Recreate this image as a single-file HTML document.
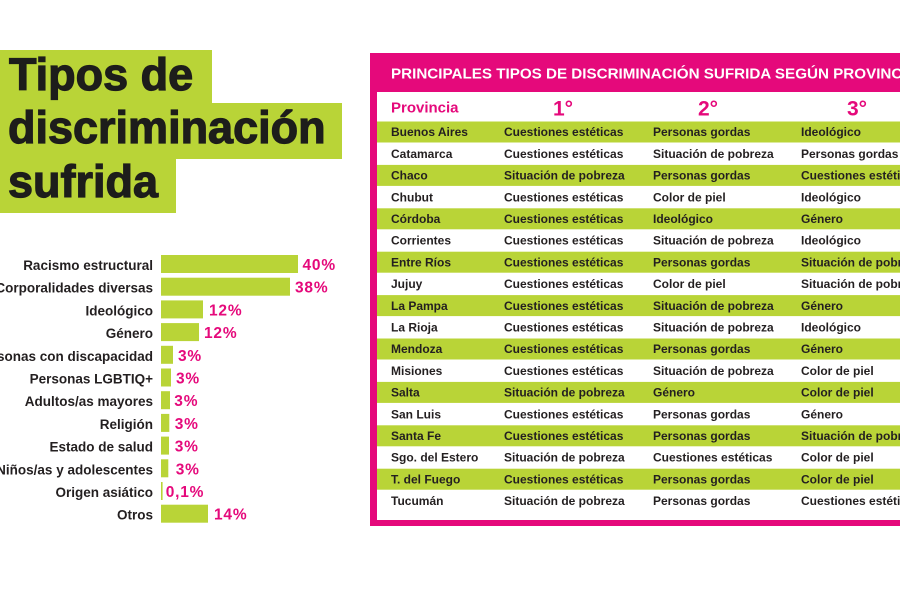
<!DOCTYPE html>
<html><head><meta charset="utf-8">
<style>
html,body{margin:0;padding:0;background:#fff;width:900px;height:600px;overflow:hidden}
svg{display:block}
text{font-family:"Liberation Sans",sans-serif}
.lab{font-size:13.5px;font-weight:bold;fill:#231f20;text-anchor:end}
.pct{font-size:15.5px;font-weight:bold;fill:#e5097b;letter-spacing:0.8px}
.td{font-size:12px;font-weight:bold;fill:#231f20}
</style></head>
<body>
<svg width="900" height="600" viewBox="0 0 900 600" xmlns="http://www.w3.org/2000/svg">
<rect width="900" height="600" fill="#fff"/>
<!-- Title -->
<rect x="0" y="50" width="212" height="54" fill="#b9d437"/>
<rect x="0" y="103" width="342" height="56" fill="#b9d437"/>
<rect x="0" y="158" width="176" height="55" fill="#b9d437"/>
<g font-size="45" font-weight="bold" fill="#1d1d1b" stroke="#1d1d1b" stroke-width="1.2" style="font-family:'Liberation Sans',sans-serif">
<text x="9" y="90">Tipos de</text>
<text x="8" y="143">discriminación</text>
<text x="8" y="197">sufrida</text>
</g>
<!-- Bars -->
<g fill="#b9d437">
<rect x="161" y="255" width="137" height="18"/>
<rect x="161" y="277.7" width="129" height="18"/>
<rect x="161" y="300.4" width="42" height="18"/>
<rect x="161" y="323.1" width="38" height="18"/>
<rect x="161" y="345.8" width="12" height="18"/>
<rect x="161" y="368.5" width="10" height="18"/>
<rect x="161" y="391.2" width="9" height="18"/>
<rect x="161" y="413.9" width="8.3" height="18"/>
<rect x="161" y="436.6" width="8" height="18"/>
<rect x="161" y="459.3" width="7.3" height="18"/>
<rect x="161" y="482" width="1.6" height="18"/>
<rect x="161" y="504.7" width="47" height="18"/>
</g>
<text class="lab" x="153" y="270">Racismo estructural</text>
<text class="lab" x="153" y="292.7">Corporalidades diversas</text>
<text class="lab" x="153" y="315.4">Ideológico</text>
<text class="lab" x="153" y="338.1">Género</text>
<text class="lab" x="153" y="360.8">Personas con discapacidad</text>
<text class="lab" x="153" y="383.5">Personas LGBTIQ+</text>
<text class="lab" x="153" y="406.2">Adultos/as mayores</text>
<text class="lab" x="153" y="428.9">Religión</text>
<text class="lab" x="153" y="451.6">Estado de salud</text>
<text class="lab" x="153" y="474.3">Niños/as y adolescentes</text>
<text class="lab" x="153" y="497">Origen asiático</text>
<text class="lab" x="153" y="519.7">Otros</text>

<text class="pct" x="302.5" y="270">40%</text>
<text class="pct" x="295" y="292.7">38%</text>
<text class="pct" x="209" y="315.4">12%</text>
<text class="pct" x="204" y="338.1">12%</text>
<text class="pct" x="178" y="360.8">3%</text>
<text class="pct" x="176" y="383.5">3%</text>
<text class="pct" x="174.3" y="406.2">3%</text>
<text class="pct" x="174.7" y="428.9">3%</text>
<text class="pct" x="174.7" y="451.6">3%</text>
<text class="pct" x="175.7" y="474.3">3%</text>
<text class="pct" x="165.7" y="497">0,1%</text>
<text class="pct" x="214" y="519.7">14%</text>

<!-- Table frame -->
<rect x="370" y="53" width="540" height="473" fill="#e5097b"/>
<rect x="377" y="92" width="533" height="428" fill="#fff"/>
<text x="391" y="78.3" font-size="15.2" font-weight="bold" fill="#fff">PRINCIPALES TIPOS DE DISCRIMINACIÓN SUFRIDA SEGÚN PROVINCIA</text>
<text x="391" y="112.3" font-size="15" font-weight="bold" fill="#e5097b">Provincia</text>
<g font-size="21" font-weight="bold" fill="#e5097b" text-anchor="middle">
<text x="563" y="115.7">1°</text>
<text x="708" y="115.7">2°</text>
<text x="857" y="115.7">3°</text>
</g>
<!-- green rows -->
<g fill="#b9d437">
<rect x="377" y="121.5" width="533" height="21"/>
<rect x="377" y="164.9" width="533" height="21"/>
<rect x="377" y="208.3" width="533" height="21"/>
<rect x="377" y="251.7" width="533" height="21"/>
<rect x="377" y="295.1" width="533" height="21"/>
<rect x="377" y="338.5" width="533" height="21"/>
<rect x="377" y="381.9" width="533" height="21"/>
<rect x="377" y="425.3" width="533" height="21"/>
<rect x="377" y="468.7" width="533" height="21"/>
</g>
<g class="td">
<text class="td" x="391" y="136.2">Buenos Aires</text><text class="td" x="504" y="136.2">Cuestiones estéticas</text><text class="td" x="653" y="136.2">Personas gordas</text><text class="td" x="801" y="136.2">Ideológico</text>
<text class="td" x="391" y="157.9">Catamarca</text><text class="td" x="504" y="157.9">Cuestiones estéticas</text><text class="td" x="653" y="157.9">Situación de pobreza</text><text class="td" x="801" y="157.9">Personas gordas</text>
<text class="td" x="391" y="179.6">Chaco</text><text class="td" x="504" y="179.6">Situación de pobreza</text><text class="td" x="653" y="179.6">Personas gordas</text><text class="td" x="801" y="179.6">Cuestiones estéticas</text>
<text class="td" x="391" y="201.3">Chubut</text><text class="td" x="504" y="201.3">Cuestiones estéticas</text><text class="td" x="653" y="201.3">Color de piel</text><text class="td" x="801" y="201.3">Ideológico</text>
<text class="td" x="391" y="223">Córdoba</text><text class="td" x="504" y="223">Cuestiones estéticas</text><text class="td" x="653" y="223">Ideológico</text><text class="td" x="801" y="223">Género</text>
<text class="td" x="391" y="244.7">Corrientes</text><text class="td" x="504" y="244.7">Cuestiones estéticas</text><text class="td" x="653" y="244.7">Situación de pobreza</text><text class="td" x="801" y="244.7">Ideológico</text>
<text class="td" x="391" y="266.4">Entre Ríos</text><text class="td" x="504" y="266.4">Cuestiones estéticas</text><text class="td" x="653" y="266.4">Personas gordas</text><text class="td" x="801" y="266.4">Situación de pobreza</text>
<text class="td" x="391" y="288.1">Jujuy</text><text class="td" x="504" y="288.1">Cuestiones estéticas</text><text class="td" x="653" y="288.1">Color de piel</text><text class="td" x="801" y="288.1">Situación de pobreza</text>
<text class="td" x="391" y="309.8">La Pampa</text><text class="td" x="504" y="309.8">Cuestiones estéticas</text><text class="td" x="653" y="309.8">Situación de pobreza</text><text class="td" x="801" y="309.8">Género</text>
<text class="td" x="391" y="331.5">La Rioja</text><text class="td" x="504" y="331.5">Cuestiones estéticas</text><text class="td" x="653" y="331.5">Situación de pobreza</text><text class="td" x="801" y="331.5">Ideológico</text>
<text class="td" x="391" y="353.2">Mendoza</text><text class="td" x="504" y="353.2">Cuestiones estéticas</text><text class="td" x="653" y="353.2">Personas gordas</text><text class="td" x="801" y="353.2">Género</text>
<text class="td" x="391" y="374.9">Misiones</text><text class="td" x="504" y="374.9">Cuestiones estéticas</text><text class="td" x="653" y="374.9">Situación de pobreza</text><text class="td" x="801" y="374.9">Color de piel</text>
<text class="td" x="391" y="396.6">Salta</text><text class="td" x="504" y="396.6">Situación de pobreza</text><text class="td" x="653" y="396.6">Género</text><text class="td" x="801" y="396.6">Color de piel</text>
<text class="td" x="391" y="418.3">San Luis</text><text class="td" x="504" y="418.3">Cuestiones estéticas</text><text class="td" x="653" y="418.3">Personas gordas</text><text class="td" x="801" y="418.3">Género</text>
<text class="td" x="391" y="440">Santa Fe</text><text class="td" x="504" y="440">Cuestiones estéticas</text><text class="td" x="653" y="440">Personas gordas</text><text class="td" x="801" y="440">Situación de pobreza</text>
<text class="td" x="391" y="461.7">Sgo. del Estero</text><text class="td" x="504" y="461.7">Situación de pobreza</text><text class="td" x="653" y="461.7">Cuestiones estéticas</text><text class="td" x="801" y="461.7">Color de piel</text>
<text class="td" x="391" y="483.4">T. del Fuego</text><text class="td" x="504" y="483.4">Cuestiones estéticas</text><text class="td" x="653" y="483.4">Personas gordas</text><text class="td" x="801" y="483.4">Color de piel</text>
<text class="td" x="391" y="505.1">Tucumán</text><text class="td" x="504" y="505.1">Situación de pobreza</text><text class="td" x="653" y="505.1">Personas gordas</text><text class="td" x="801" y="505.1">Cuestiones estéticas</text>
</g>
</svg>
</body></html>
